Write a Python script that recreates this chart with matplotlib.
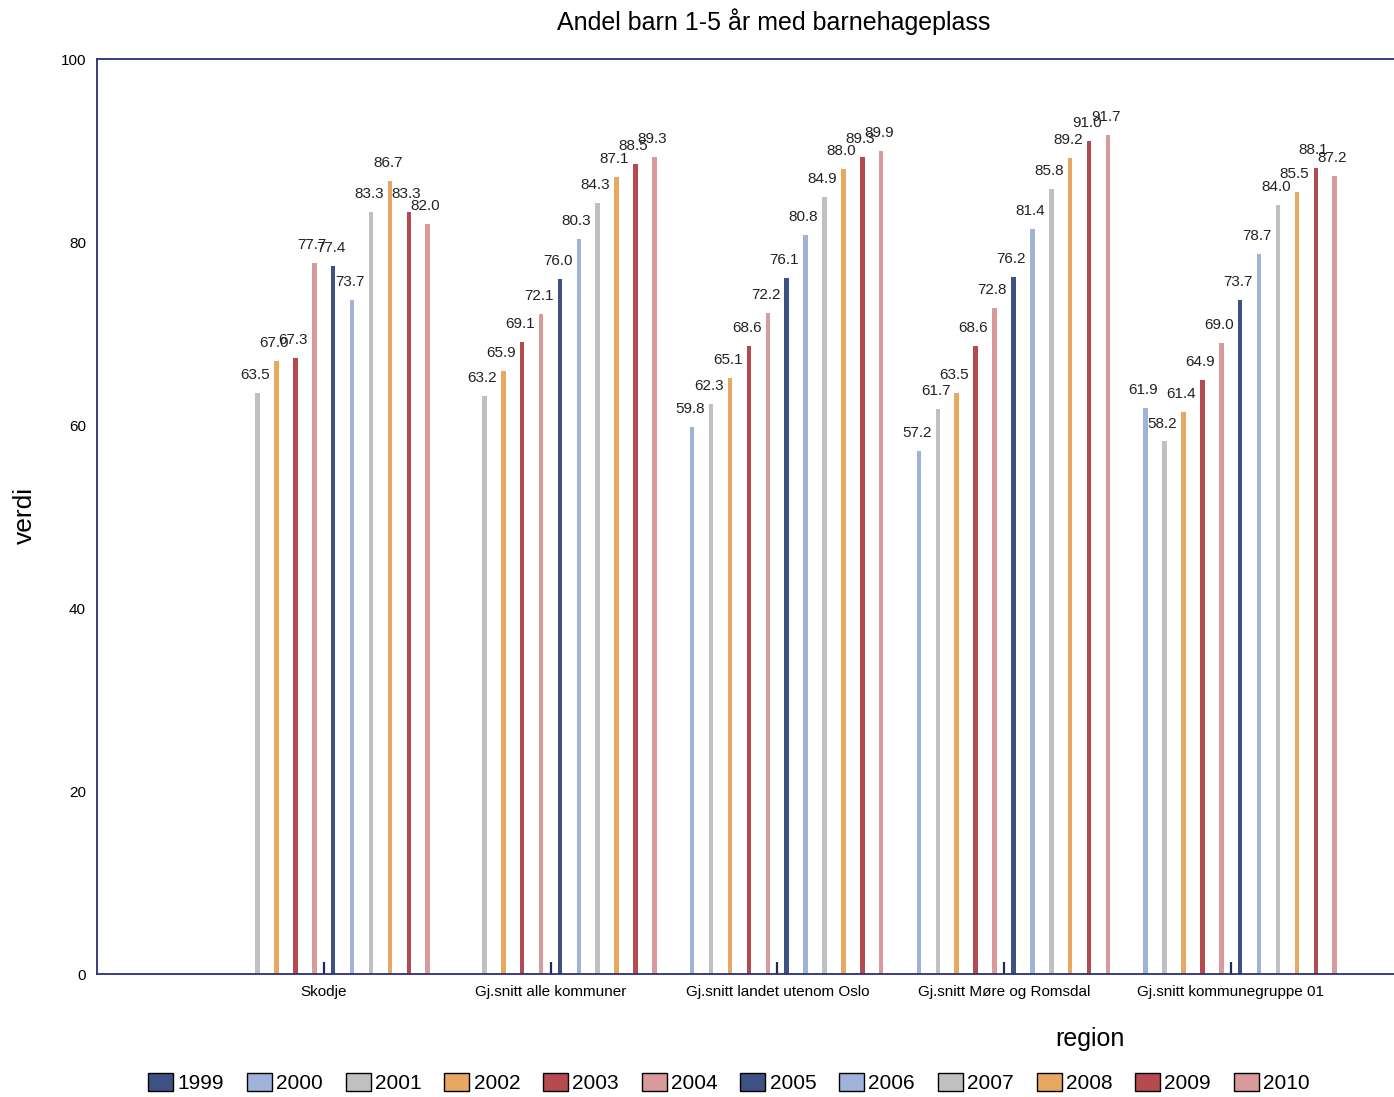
import matplotlib
matplotlib.use("Agg")
import matplotlib.pyplot as plt
import numpy as np

plt.rcParams['font.family'] = ['Liberation Sans', 'DejaVu Sans']

regions = ['Skodje', 'Gj.snitt alle kommuner', 'Gj.snitt landet utenom Oslo',
           'Gj.snitt Møre og Romsdal', 'Gj.snitt kommunegruppe 01']
years = ['1999', '2000', '2001', '2002', '2003', '2004',
         '2005', '2006', '2007', '2008', '2009', '2010']

# verdier per region, et tall per år (nan = mangler)
skodje = [np.nan, np.nan, 63.5, 67.0, 67.3, 77.7, 77.4, 73.7, 83.3, 86.7, 83.3, 82.0]
alle_kommuner = [np.nan, np.nan, 63.2, 65.9, 69.1, 72.1, 76.0, 80.3, 84.3, 87.1, 88.5, 89.3]
utenom_oslo = [np.nan, 59.8, 62.3, 65.1, 68.6, 72.2, 76.1, 80.8, 84.9, 88.0, 89.3, 89.9]
more_romsdal = [np.nan, 57.2, 61.7, 63.5, 68.6, 72.8, 76.2, 81.4, 85.8, 89.2, 91.0, 91.7]
kommunegruppe = [np.nan, 61.9, 58.2, 61.4, 64.9, 69.0, 73.7, 78.7, 84.0, 85.5, 88.1, 87.2]

colors = ['#3d5283', '#9fb2d8', '#c0c0c0', '#e9a862', '#b44a4d', '#d99a9b'] * 2

data = np.array([skodje, alle_kommuner, utenom_oslo, more_romsdal, kommunegruppe])

fig = plt.figure(figsize=(13.94, 10.97), dpi=100)
ax = fig.add_axes([0.0696, 0.1121, 0.9304, 0.8341])

x = np.arange(len(regions))
slot = 1.0 / len(years)
for j, year in enumerate(years):
    pos = x + (j - 5.5) * slot
    vals = data[:, j]
    ax.bar(pos, vals, width=0.02, color=colors[j], label=year)
    for p, v in zip(pos, vals):
        if not np.isnan(v):
            ax.text(p - 0.01, v + 1.2, f'{v:.1f}', ha='center', va='bottom',
                    fontsize=11, color='#222222')

navy = '#2b2f7a'
ax.set_xlim(-1.0, 4.72)
ax.set_ylim(0, 100)
ax.set_yticks([0, 20, 40, 60, 80, 100])
ax.set_xticks(x)
ax.set_xticklabels(regions, fontsize=11)
ax.tick_params(axis='y', length=0, labelsize=11, pad=8)
ax.tick_params(axis='x', direction='in', length=9, width=1.6, color='#1f2a55', pad=8)
for side in ['left', 'top', 'bottom']:
    ax.spines[side].set_color(navy)
    ax.spines[side].set_linewidth(1.3)
ax.spines['right'].set_visible(False)

fig.text(0.018, 0.53, 'verdi', fontsize=19, rotation=90, ha='center', va='center')
fig.text(0.782, 0.053, 'region', fontsize=18, ha='center', va='center')
fig.text(0.555, 0.98, 'Andel barn 1-5 år med barnehageplass', fontsize=18,
         ha='center', va='center')

fig.legend(loc='center', bbox_to_anchor=(0.523, 0.013), ncol=12, frameon=False,
           fontsize=15, handlelength=1.2, handleheight=1.0, handletextpad=0.2,
           columnspacing=1.1, borderaxespad=0)
for h in fig.legends[0].legend_handles:
    h.set_edgecolor('black')
    h.set_linewidth(1.0)

fig.savefig('out.png', dpi=100)
